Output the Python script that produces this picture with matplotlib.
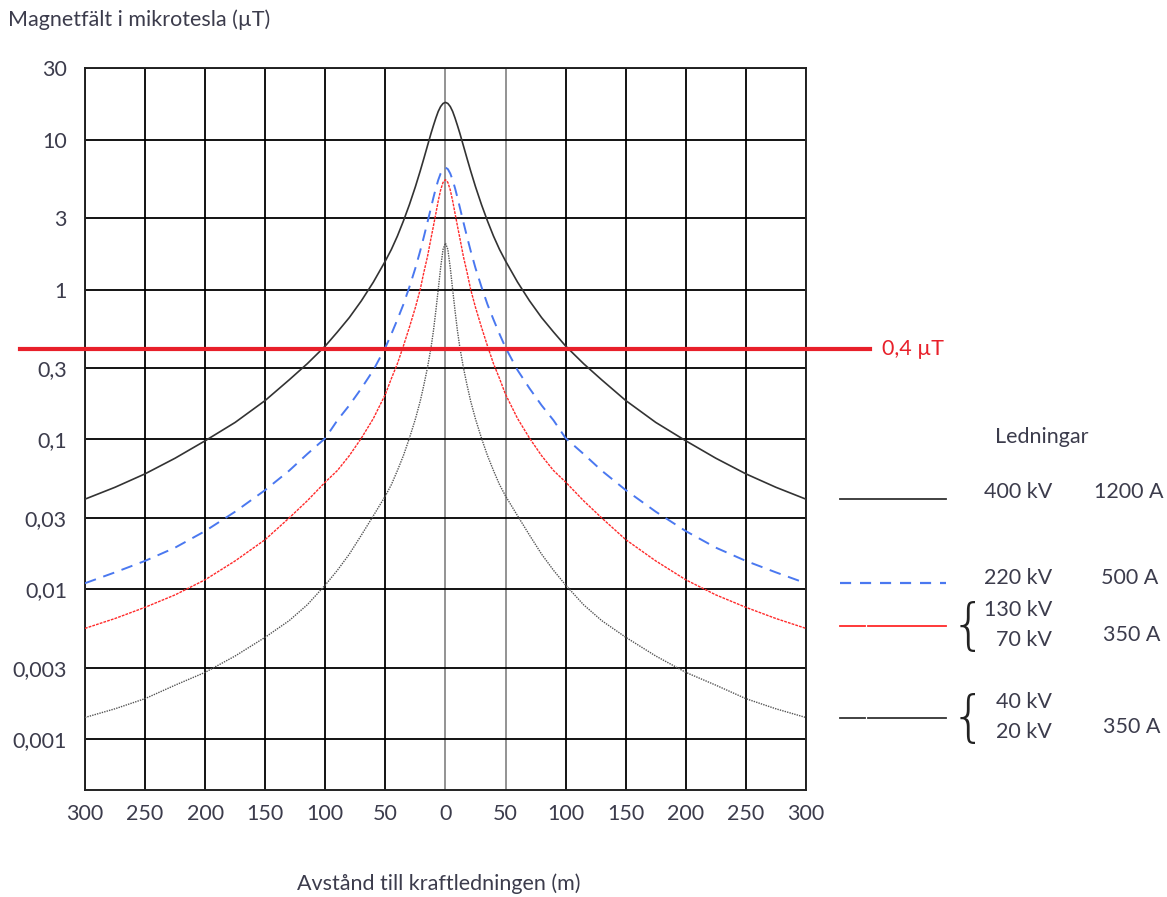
import matplotlib
matplotlib.use("Agg")
import matplotlib.pyplot as plt
from matplotlib.lines import Line2D

plt.rcParams['font.family'] = ['Lato', 'DejaVu Sans']

# distance from the line (m), right half; the curves are symmetric
distance = [0, 2, 4, 6, 8, 10, 12, 15, 18, 21, 25, 30, 35, 40, 45, 50, 60, 70, 80, 90,
            100, 115, 130, 150, 175, 200, 225, 250, 275, 300]

# magnetic field in microtesla
field_400kv = [17.7, 17.4, 16.6, 15.4, 13.9, 12.4, 11.0, 9.06, 7.46, 6.17, 4.85, 3.68,
               2.86, 2.27, 1.85, 1.55, 1.12, 0.84, 0.65, 0.52,
               0.42, 0.32, 0.25, 0.182, 0.13, 0.098, 0.075, 0.059, 0.048, 0.040]
field_220kv = [6.5, 6.35, 5.94, 5.37, 4.73, 4.1, 3.52, 2.8, 2.24, 1.81, 1.39, 1.04,
               0.795, 0.63, 0.505, 0.41, 0.29, 0.219, 0.169, 0.134,
               0.102, 0.080, 0.062, 0.046, 0.033, 0.0245, 0.019, 0.0155, 0.013, 0.011]
field_130kv = [5.4, 5.18, 4.61, 3.9, 3.21, 2.65, 2.2, 1.65, 1.3, 1.0, 0.76, 0.56,
               0.42, 0.32, 0.255, 0.2, 0.138, 0.102, 0.078, 0.062,
               0.052, 0.039, 0.030, 0.0215, 0.0155, 0.0116, 0.0092, 0.0076, 0.0064, 0.0055]
field_40kv = [2.04, 1.85, 1.4, 1.0, 0.72, 0.53, 0.41, 0.3, 0.23, 0.18, 0.137, 0.102,
              0.078, 0.062, 0.05, 0.042, 0.031, 0.023, 0.0172, 0.0134,
              0.0107, 0.0079, 0.0062, 0.0048, 0.0036, 0.0028, 0.0023, 0.00187, 0.0016, 0.0014]

limit_value = 0.4

y_ticks = [30, 10, 3, 1, 0.3, 0.1, 0.03, 0.01, 0.003, 0.001]
y_tick_labels = ["30", "10", "3", "1", "0,3", "0,1", "0,03", "0,01", "0,003", "0,001"]
x_ticks = [-300, -250, -200, -150, -100, -50, 0, 50, 100, 150, 200, 250, 300]

legend_kv = ["400 kV", "220 kV", "130 kV\n70 kV", "40 kV\n20 kV"]
legend_amp = ["1200 A", "500 A", "350 A", "350 A"]

text_color = '#3c3c4c'
fs = 15.5


def mirror(xs, ys):
    full_x = [-x for x in xs[::-1]] + xs[1:]
    full_y = ys[::-1] + ys[1:]
    return full_x, full_y


fig = plt.figure(figsize=(11.67, 8.97), dpi=100)
ax = fig.add_axes([0.0728, 0.1193, 0.6178, 0.8049])

ax.set_yscale('log')
ax.set_ylim(0.00046, 30)
ax.set_xlim(-300, 300)

ax.set_yticks(y_ticks)
ax.set_yticklabels(y_tick_labels)
ax.minorticks_off()
ax.set_xticks(x_ticks)
ax.set_xticklabels([str(abs(x)) for x in x_ticks])
ax.tick_params(axis='both', length=0, labelsize=fs, labelcolor=text_color)
ax.tick_params(axis='y', pad=13)
ax.tick_params(axis='x', pad=10)

ax.grid(True, color='black', linewidth=1.3, zorder=1)
ax.set_axisbelow(True)
for tick, val in zip(ax.xaxis.get_major_ticks(), x_ticks):
    if val in (0, 50):
        tick.gridline.set_color('#8a8a8a')
for spine in ax.spines.values():
    spine.set_linewidth(1.4)
    spine.set_color('#222222')

x, y = mirror(distance, field_400kv)
ax.plot(x, y, color='#333333', linewidth=1.2, zorder=3)
x, y = mirror(distance, field_220kv)
ax.plot(x, y, color='#4a78f0', linewidth=1.4, linestyle=(0, (6, 4)), zorder=3)
x, y = mirror(distance, field_130kv)
ax.plot(x, y, color='#ff2a2a', linewidth=1.0, linestyle=(0, (2, 0.8)), zorder=3)
x, y = mirror(distance, field_40kv)
ax.plot(x, y, color='#555555', linewidth=1.0, linestyle=(0, (1, 0.8)), zorder=3)

# 0,4 uT reference line, running past the plot edges
ax.axhline(limit_value, xmin=-0.09, xmax=1.089, color='#e8202a', linewidth=3.0,
           clip_on=False, zorder=4)
ax.text(1.105, limit_value, "0,4 µT", transform=ax.get_yaxis_transform(), color='#e8202a',
        fontsize=fs, va='center', ha='left')

fig.text(8 / 1167, 1 - 20 / 897, "Magnetfält i mikrotesla (µT)", fontsize=fs,
         color=text_color, ha='left', va='center')
fig.text(439 / 1167, 1 - 884 / 897, "Avstånd till kraftledningen (m)", fontsize=fs,
         color=text_color, ha='center', va='center')

# hand-made legend on the right
W, H = 1167, 897
fig.text(995 / W, 1 - 437 / H, "Ledningar", fontsize=fs, color=text_color, va='center')

legend_colors = ['#333333', '#4a78f0', '#ff2a2a', '#333333']
legend_dashed = [False, True, False, False]
legend_split = [False, False, True, True]
legend_line_y = [499, 583, 626, 718]
legend_kv_y = [492, 578, 625, 717]
legend_amp_y = [492, 578, 635, 727]
legend_amp_x = [1163, 1158, 1160, 1160]

for i in range(4):
    ly = 1 - legend_line_y[i] / H
    if legend_dashed[i]:
        fig.add_artist(Line2D([840 / W, 946 / W], [ly, ly], color=legend_colors[i],
                              linewidth=1.6, linestyle=(0, (5, 4))))
    elif legend_split[i]:
        fig.add_artist(Line2D([840 / W, 865 / W], [ly, ly], color=legend_colors[i], linewidth=1.3))
        fig.add_artist(Line2D([868 / W, 946 / W], [ly, ly], color=legend_colors[i], linewidth=1.3))
    else:
        fig.add_artist(Line2D([840 / W, 946 / W], [ly, ly], color=legend_colors[i], linewidth=1.3))
    fig.text(1052 / W, 1 - legend_kv_y[i] / H, legend_kv[i], fontsize=fs, color=text_color,
             ha='right', va='center', linespacing=1.68, multialignment='right')
    fig.text(legend_amp_x[i] / W, 1 - legend_amp_y[i] / H, legend_amp[i], fontsize=fs,
             color=text_color, ha='right', va='center')
    if legend_split[i]:
        fig.text(968 / W, 1 - (legend_kv_y[i] + 3) / H, "{", fontsize=40, color='#222222',
                 ha='center', va='center', family='DejaVu Sans', fontweight='light')

fig.savefig("out.png", dpi=100)
